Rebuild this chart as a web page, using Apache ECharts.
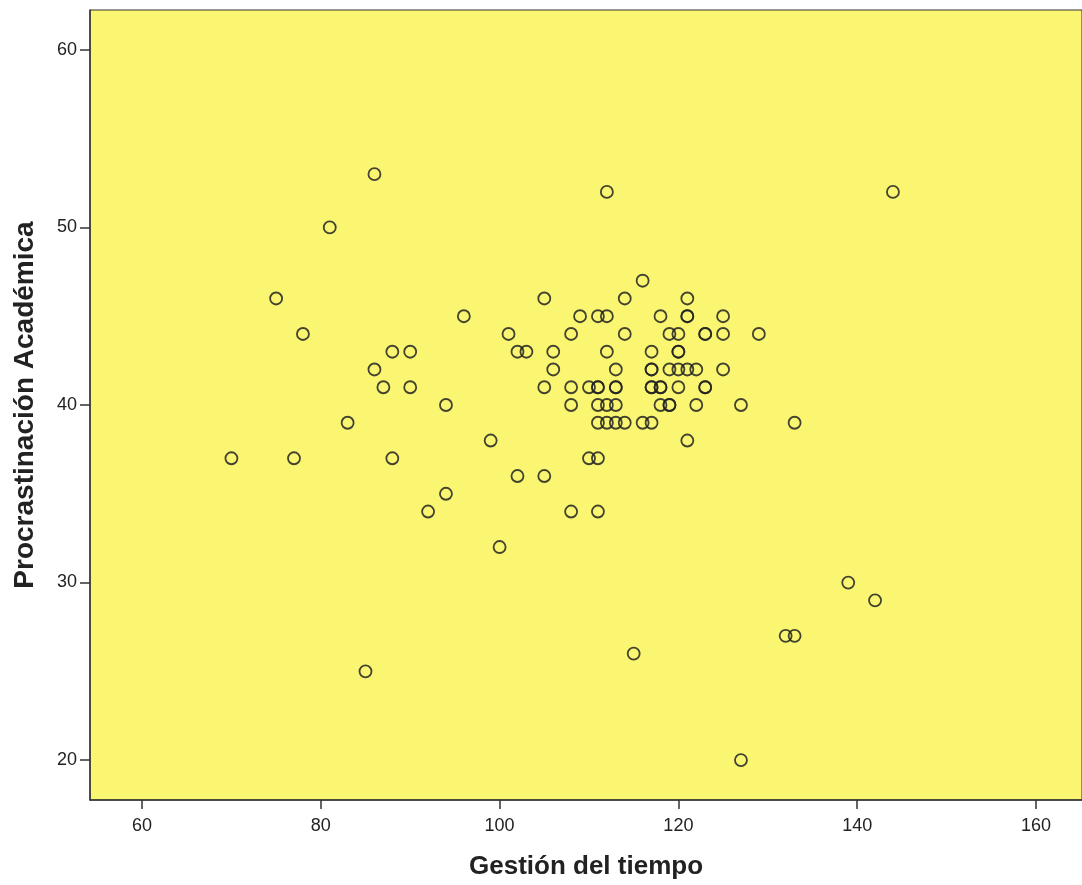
<!DOCTYPE html>
<html>
<head>
<meta charset="utf-8">
<script src="https://cdn.jsdelivr.net/npm/echarts@6/dist/echarts.min.js"></script>
<style>html,body{margin:0;padding:0;background:#fff}#c{width:1082px;height:885px}</style>
</head>
<body>
<div id="c"></div>
<script>
var gestion = [
  70, 75, 77, 78, 81, 83, 85,
  86, 86,
  87,
  88, 88,
  90, 90,
  92,
  94, 94,
  96, 99, 100, 101,
  102, 102,
  103,
  105, 105, 105,
  106, 106,
  108, 108, 108, 108,
  109,
  110, 110,
  111, 111, 111, 111, 111, 111, 111,
  112, 112, 112, 112, 112,
  113, 113, 113, 113, 113,
  114, 114, 114,
  115,
  116, 116,
  117, 117, 117, 117, 117, 117,
  118, 118, 118, 118,
  119, 119, 119, 119,
  120, 120, 120, 120, 120,
  121, 121, 121, 121, 121,
  122, 122,
  123, 123, 123, 123,
  125, 125, 125,
  127, 127,
  129, 132,
  133, 133,
  139, 142, 144
];
var procrast = [
  37, 46, 37, 44, 50, 39, 25,
  53, 42,
  41,
  43, 37,
  43, 41,
  34,
  40, 35,
  45, 38, 32, 44,
  43, 36,
  43,
  46, 41, 36,
  43, 42,
  44, 41, 40, 34,
  45,
  41, 37,
  45, 41, 41, 40, 39, 37, 34,
  52, 45, 43, 40, 39,
  42, 41, 41, 40, 39,
  46, 44, 39,
  26,
  47, 39,
  43, 42, 42, 41, 41, 39,
  45, 41, 41, 40,
  44, 42, 40, 40,
  44, 43, 43, 42, 41,
  46, 45, 45, 42, 38,
  42, 40,
  44, 44, 41, 41,
  45, 44, 42,
  40, 20,
  44, 27,
  27, 39,
  30, 29, 52
];
var xTicks = [60,80,100,120,140,160];
var yTicks = [20,30,40,50,60];
var xTitle = 'Gestión del tiempo';
var yTitle = 'Procrastinación Académica';

var pts = gestion.map(function(g,i){return [g, procrast[i]];});
var chart = echarts.init(document.getElementById('c'));
var font = 'Liberation Sans, Arial, sans-serif';
chart.setOption({
  animation:false,
  grid:{left:90,top:10,right:0,bottom:85,outerBoundsMode:'none',containLabel:false,show:true,backgroundColor:'#faf671',borderColor:'#333',borderWidth:1},
  xAxis:{type:'value',min:54.18,max:165.15,
    name:xTitle,nameLocation:'middle',nameGap:54,
    nameTextStyle:{fontFamily:font,fontSize:26,fontWeight:'bold',color:'#222'},
    axisLine:{show:true,lineStyle:{color:'#333',width:1.5}},
    axisTick:{show:true,length:9,customValues:xTicks,lineStyle:{color:'#333',width:1.5}},
    axisLabel:{customValues:xTicks,fontFamily:font,fontSize:18,color:'#222',margin:17},
    splitLine:{show:false}},
  yAxis:{type:'value',min:17.75,max:62.25,
    name:yTitle,nameLocation:'middle',nameGap:51,
    nameTextStyle:{fontFamily:font,fontSize:28,fontWeight:'bold',color:'#222'},
    axisLine:{show:true,lineStyle:{color:'#333',width:1.5}},
    axisTick:{show:true,length:10,customValues:yTicks,lineStyle:{color:'#333',width:1.5}},
    axisLabel:{customValues:yTicks,fontFamily:font,fontSize:18,color:'#222',margin:13},
    splitLine:{show:false}},
  series:[{type:'scatter',data:pts,symbol:'circle',symbolSize:12,
    itemStyle:{color:'rgba(0,0,0,0)',borderColor:'#222',borderWidth:1.8,opacity:0.85}}]
});
</script>
</body>
</html>
